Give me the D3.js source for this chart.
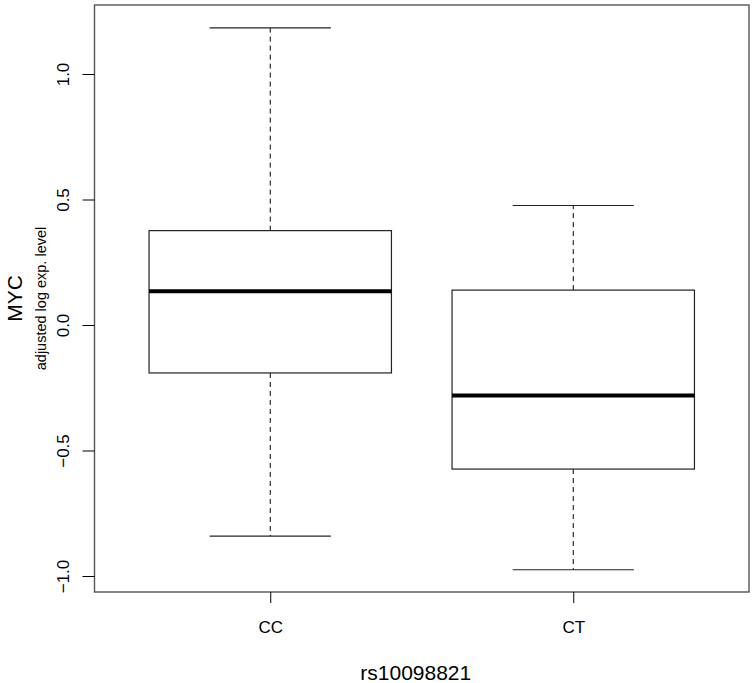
<!DOCTYPE html>
<html>
<head>
<meta charset="utf-8">
<script src="https://cdn.jsdelivr.net/npm/d3@7"></script>
<style>
  body { margin: 0; background: #fff; }
  text { font-family: "Liberation Sans", Arial, sans-serif; fill: #000; }
</style>
</head>
<body>
<div id="chart"></div>
<script>
// genotype groups and their box stats
var groups = ['CC', 'CT'];
var whiskerLow = [-0.841, -0.975];
var q1 = [-0.191, -0.574];
var median = [0.134, -0.281];
var q3 = [0.376, 0.139];
var whiskerHigh = [1.184, 0.476];
var yTicks = [-1.0, -0.5, 0.0, 0.5, 1.0];

var width = 755, height = 683;
var margin = {top: 5, right: 6, bottom: 91, left: 94.5};
var plotW = width - margin.left - margin.right;
var plotH = height - margin.top - margin.bottom;

var svg = d3.select('#chart').append('svg')
  .attr('width', width)
  .attr('height', height);

var g = svg.append('g')
  .attr('transform', 'translate(' + margin.left + ',' + margin.top + ')');

// R style: positions 1..n, xlim 0.5..n+0.5 with 4% padding
var x = d3.scaleLinear()
  .domain([0.5 - 0.04 * 2, 2.5 + 0.04 * 2])
  .range([0, plotW]);

var y = d3.scaleLinear()
  .domain([-1.0 - (591.7 - 575.7) / 251, 1.0 + (74 - 5) / 251])
  .range([plotH, 0]);

var data = groups.map(function(d, i) {
  return {label: d, pos: i + 1, lo: whiskerLow[i], q1: q1[i], med: median[i], q3: q3[i], hi: whiskerHigh[i]};
});

// whiskers
g.selectAll('.whisker')
  .data(data)
  .enter().append('g')
  .each(function(d) {
    var sel = d3.select(this);
    var cx = x(d.pos);
    sel.append('line')
      .attr('x1', cx).attr('x2', cx)
      .attr('y1', y(d.q3)).attr('y2', y(d.hi))
      .attr('stroke', '#000').attr('stroke-dasharray', '5,4');
    sel.append('line')
      .attr('x1', cx).attr('x2', cx)
      .attr('y1', y(d.q1)).attr('y2', y(d.lo))
      .attr('stroke', '#000').attr('stroke-dasharray', '5,4');
    [d.lo, d.hi].forEach(function(v) {
      sel.append('line')
        .attr('x1', x(d.pos - 0.2)).attr('x2', x(d.pos + 0.2))
        .attr('y1', y(v)).attr('y2', y(v))
        .attr('stroke', '#222').attr('stroke-width', 1.2);
    });
  });

// boxes
g.selectAll('.box')
  .data(data)
  .enter().append('rect')
  .attr('class', 'box')
  .attr('x', function(d) { return x(d.pos - 0.4); })
  .attr('width', function(d) { return x(d.pos + 0.4) - x(d.pos - 0.4); })
  .attr('y', function(d) { return y(d.q3); })
  .attr('height', function(d) { return y(d.q1) - y(d.q3); })
  .attr('fill', '#fff')
  .attr('stroke', '#222')
  .attr('stroke-width', 1.2);

// medians
g.selectAll('.median')
  .data(data)
  .enter().append('line')
  .attr('x1', function(d) { return x(d.pos - 0.4); })
  .attr('x2', function(d) { return x(d.pos + 0.4); })
  .attr('y1', function(d) { return y(d.med); })
  .attr('y2', function(d) { return y(d.med); })
  .attr('stroke', '#000')
  .attr('stroke-width', 4);

// frame
g.append('rect')
  .attr('width', plotW).attr('height', plotH)
  .attr('fill', 'none')
  .attr('stroke', '#555')
  .attr('stroke-width', 1.4);

// y axis
var yAxis = g.append('g')
  .attr('font-size', 17)
  .call(d3.axisLeft(y).tickValues(yTicks).tickSize(12).tickFormat(d3.format('.1f')));
yAxis.attr('font-size', 17).attr('font-family', null);
yAxis.select('.domain').remove();
yAxis.selectAll('.tick line').attr('stroke', '#000');
yAxis.selectAll('.tick text')
  .attr('x', null).attr('dy', null)
  .attr('transform', 'translate(-26,0) rotate(-90)')
  .attr('text-anchor', 'middle');

// x axis
var xAxis = g.append('g')
  .attr('transform', 'translate(0,' + plotH + ')')
  .call(d3.axisBottom(x).tickValues(data.map(function(d) { return d.pos; }))
    .tickSize(11).tickFormat(function(v) { return groups[v - 1]; }));
xAxis.attr('font-size', 17).attr('font-family', null);
xAxis.select('.domain').remove();
xAxis.selectAll('.tick line').attr('stroke', '#000');
xAxis.selectAll('.tick text')
  .attr('y', 35).attr('dy', '0.35em');

// axis titles
svg.append('text')
  .attr('x', margin.left + plotW / 2 - 6)
  .attr('y', 680)
  .attr('text-anchor', 'middle')
  .style('font-size', '21px')
  .text('rs10098821');

svg.append('text')
  .attr('transform', 'translate(22,' + (margin.top + plotH / 2) + ') rotate(-90)')
  .attr('text-anchor', 'middle')
  .style('font-size', '21px')
  .text('MYC');

svg.append('text')
  .attr('transform', 'translate(46,' + (margin.top + plotH / 2) + ') rotate(-90)')
  .attr('text-anchor', 'middle')
  .style('font-size', '14.5px')
  .text('adjusted log exp. level');
</script>
</body>
</html>
